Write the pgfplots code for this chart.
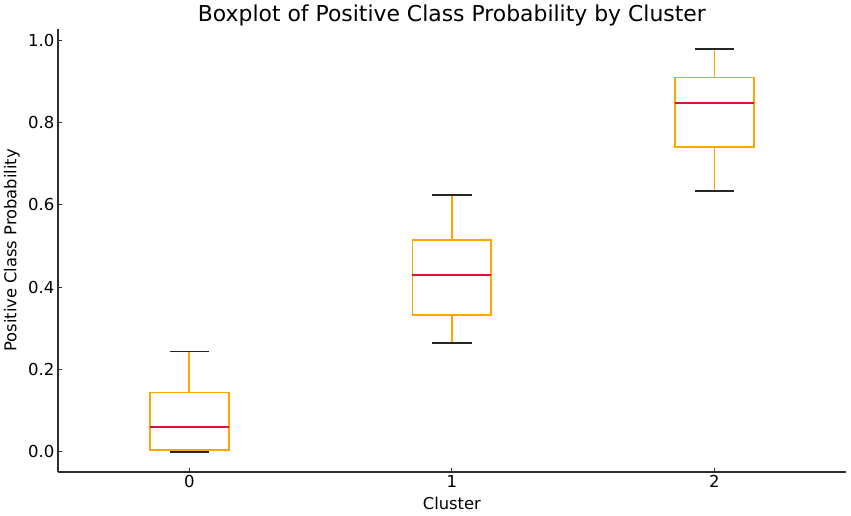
\documentclass[border=0pt]{standalone}
\usepackage{fontspec}
\setmainfont{DejaVu Sans}
\usepackage{pgfplots}
\pgfplotsset{compat=1.18}
\usepgfplotslibrary{statistics}
\definecolor{boxorange}{RGB}{255,165,0}
\definecolor{medred}{RGB}{220,20,60}
\definecolor{spine}{RGB}{45,45,45}

% orange whisker stems, black caps
\pgfplotsset{
  boxplot/draw/lower whisker/.code={%
    \draw[boxorange, line width=1.7pt]
      (boxplot box cs:\pgfplotsboxplotvalue{lower quartile},0.5) --
      (boxplot box cs:\pgfplotsboxplotvalue{lower whisker},0.5);
    \draw[black!85, line width=1.7pt]
      (boxplot whisker cs:\pgfplotsboxplotvalue{lower whisker},0) --
      (boxplot whisker cs:\pgfplotsboxplotvalue{lower whisker},1);
  },
  boxplot/draw/upper whisker/.code={%
    \draw[boxorange, line width=1.7pt]
      (boxplot box cs:\pgfplotsboxplotvalue{upper quartile},0.5) --
      (boxplot box cs:\pgfplotsboxplotvalue{upper whisker},0.5);
    \draw[black!85, line width=1.7pt]
      (boxplot whisker cs:\pgfplotsboxplotvalue{upper whisker},0) --
      (boxplot whisker cs:\pgfplotsboxplotvalue{upper whisker},1);
  },
}

\begin{document}
\begin{tikzpicture}
\begin{axis}[
    scale only axis,
    width=787.7pt, height=443pt,
    xmin=-0.5, xmax=2.5,
    ymin=-0.0489, ymax=1.0269,
    axis lines=left,
    axis line style={-, spine, line width=1.4pt},
    xtick={0,1,2},
    ytick={0,0.2,0.4,0.6,0.8,1.0},
    /pgf/number format/assume math mode=true,
    yticklabel style={font=\fontsize{16.5}{19}\selectfont,
        /pgf/number format/.cd, fixed, fixed zerofill, precision=1},
    xticklabel style={font=\fontsize{16.5}{19}\selectfont},
    tick align=inside,
    major tick length=4pt,
    tick style={spine, line width=1pt},
    label style={font=\fontsize{16.3}{19}\selectfont},
    xlabel={Cluster},
    ylabel={Positive Class Probability},
    xlabel style={at={(axis description cs:0.5,-0.070)}, anchor=center},
    ylabel style={at={(axis description cs:-0.0584,0.5)}, anchor=center},
    title={Boxplot of Positive Class Probability by Cluster},
    title style={font=\fontsize{21.9}{25}\selectfont,
                 at={(axis description cs:0.5,1)}, anchor=base, yshift=1.3pt},
    boxplot/draw direction=y,
    boxplot/every box/.style={draw=boxorange, line width=1.7pt},
    boxplot/every median/.style={draw=medred, line width=1.7pt},
    boxplot/box extend=0.3,
    boxplot/whisker extend=0.15,
]
\addplot[boxplot prepared={draw position=0,
    lower whisker=0.0, lower quartile=0.004, median=0.061,
    upper quartile=0.144, upper whisker=0.244}] coordinates {};
\addplot[boxplot prepared={draw position=1,
    lower whisker=0.264, lower quartile=0.332, median=0.429,
    upper quartile=0.515, upper whisker=0.624}] coordinates {};
\addplot[boxplot prepared={draw position=2,
    lower whisker=0.634, lower quartile=0.740, median=0.848,
    upper quartile=0.909, upper whisker=0.978}] coordinates {};
\end{axis}
\pgfresetboundingbox
\path[use as bounding box] (-58pt,-44pt) rectangle (793pt,472pt);
\end{tikzpicture}
\end{document}
